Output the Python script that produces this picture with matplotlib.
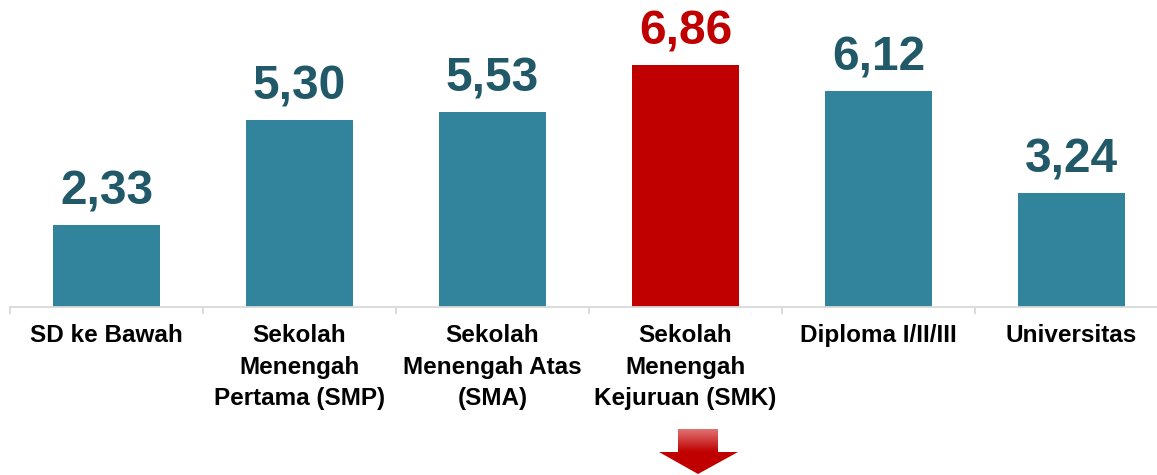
import matplotlib
matplotlib.use("Agg")
import matplotlib.pyplot as plt
import numpy as np
from matplotlib.patches import Polygon

plt.rcParams["font.family"] = ["Liberation Sans", "DejaVu Sans"]

categories = [
    "SD ke Bawah",
    "Sekolah\nMenengah\nPertama (SMP)",
    "Sekolah\nMenengah Atas\n(SMA)",
    "Sekolah\nMenengah\nKejuruan (SMK)",
    "Diploma I/II/III",
    "Universitas",
]
values = [2.33, 5.30, 5.53, 6.86, 6.12, 3.24]
value_labels = ["2,33", "5,30", "5,53", "6,86", "6,12", "3,24"]
highlight = 3

TEAL = "#31849B"
TEAL_DARK = "#215968"
RED = "#C00000"

W, H = 1157, 475
fig = plt.figure(figsize=(W / 100, H / 100), dpi=100)
# axis spans x = 10..1168 px, baseline at y = 307 px from top
ax = fig.add_axes([10 / W, (H - 307) / H, 1158 / W, 307 / H])

x = np.arange(len(categories))
colors = [RED if i == highlight else TEAL for i in x]
ax.bar(x, values, width=0.555, color=colors)

for i, (v, lab) in enumerate(zip(values, value_labels)):
    ax.annotate(lab, (i, v), xytext=(0, 7.5), textcoords="offset points",
                ha="center", va="bottom", fontsize=34.5, fontweight="bold",
                color=RED if i == highlight else TEAL_DARK)

ax.set_xlim(-0.5, len(categories) - 0.5)
ax.set_ylim(0, 8.70)

for side in ("top", "left", "right"):
    ax.spines[side].set_visible(False)
ax.spines["bottom"].set_color("#D9D9D9")
ax.spines["bottom"].set_linewidth(1.3)
ax.set_yticks([])

ax.set_xticks(x)
ax.set_xticklabels(categories, fontsize=17.5, fontweight="bold", linespacing=1.47)
ax.tick_params(axis="x", which="major", length=0, pad=12.5, colors="black")
ax.set_xticks(np.arange(-0.5, len(categories), 1.0), minor=True)
ax.tick_params(axis="x", which="minor", length=5, width=1.3, color="#D9D9D9")

# red down arrow under the SMK label (pixel coords -> figure fraction)
pts = [(678, 429), (718, 429), (718, 452), (738, 452), (698, 474),
       (659, 452), (678, 452)]
poly = Polygon([(px / W, 1 - py / H) for px, py in pts], closed=True,
               transform=fig.transFigure, facecolor=RED, edgecolor="none")
fig.patches.append(poly)
# lighter gradient on the shaft
grad = np.linspace(0, 1, 64).reshape(-1, 1)
top_col = np.array([0.88, 0.45, 0.45])
bot_col = np.array([0.75, 0.0, 0.0])
img = top_col * (1 - grad[..., None]) + bot_col * grad[..., None]
img = np.repeat(img, 2, axis=1)
gax = fig.add_axes([678 / W, 1 - 452 / H, 40 / W, 23 / H])
gax.imshow(img, aspect="auto", interpolation="bilinear")
gax.axis("off")
gax.set_zorder(5)

fig.savefig("out.png", dpi=100, facecolor="white")
